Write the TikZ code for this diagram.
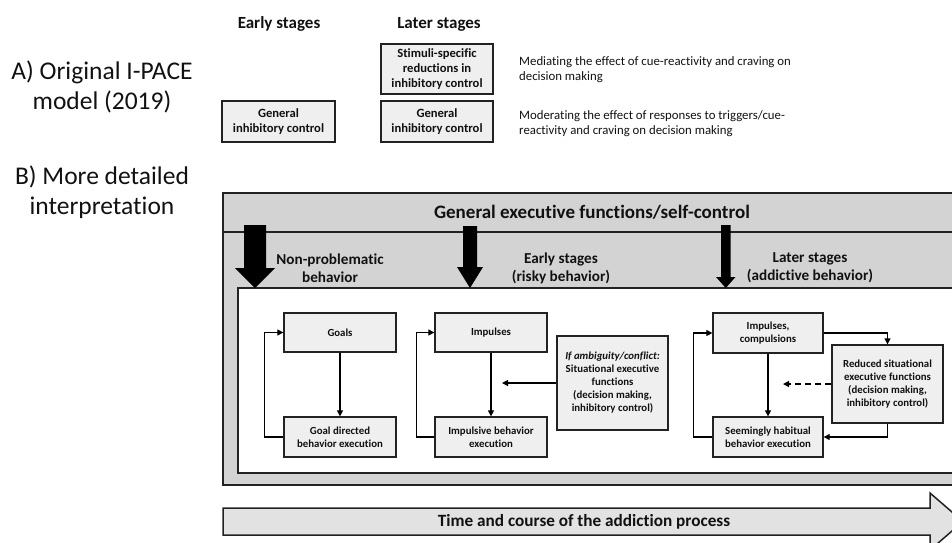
\documentclass[tikz,border=0pt]{standalone}
\usepackage{fontspec}
\setmainfont{Carlito}[Ligatures=NoCommon]
\usetikzlibrary{arrows.meta,calc}
\definecolor{outergray}{HTML}{D3D3D3}
\definecolor{boxfill}{HTML}{EFEFEF}
\definecolor{arrowfill}{HTML}{E2E2E2}
\definecolor{edgec}{HTML}{222222}
\definecolor{txt}{HTML}{111111}
\begin{document}
\begin{tikzpicture}[x=1pt,y=-1pt,
  ibox/.style={draw=edgec,fill=boxfill,line width=1.3pt,inner sep=0pt,align=center,text=txt,font=\bfseries\fontsize{12.6}{15}\selectfont},
  sbox/.style={draw=edgec,fill=boxfill,line width=1.3pt,inner sep=0pt,align=center,text=txt,font=\bfseries\fontsize{10.8}{13}\selectfont},
  conn/.style={line width=1.2pt,draw=black,-{Triangle[length=6pt,width=6pt]}},
  title/.style={align=center,text=txt,font=\fontsize{25.5}{30}\selectfont},
  colhead/.style={align=center,text=txt,font=\bfseries\fontsize{17}{20}\selectfont},
  note/.style={align=left,anchor=west,text=txt,inner sep=0pt,font=\fontsize{12.8}{15}\selectfont},
  stagelab/.style={align=center,text=txt,font=\bfseries\fontsize{15.2}{18}\selectfont},
  bigarrow/.style={fill=black}
]
\useasboundingbox (0,0) rectangle (952,542);

% ---------- Part A ----------
\node[title] (tA) at (102,87) {A) Original I-PACE\\model (2019)};
\node[colhead] (hE) at (279,24) {Early stages};
\node[colhead] (hL) at (439,24) {Later stages};
\node[ibox,minimum width=112pt,minimum height=50pt] (stim) at (437,69) {Stimuli-specific\\reductions in\\inhibitory control};
\node[ibox,minimum width=112pt,minimum height=41pt] (gicL) at (437,121.5) {General\\inhibitory control};
\node[ibox,minimum width=113pt,minimum height=41pt] (gicE) at (278.5,121.5) {General\\inhibitory control};
\node[note] (n1) at (519,69.5) {Mediating the effect of cue-reactivity and craving on\\decision making};
\node[note] (n2) at (519,123.5) {Moderating the effect of responses to triggers/cue-\\reactivity and craving on decision making};

% ---------- Part B ----------
\node[title] (tB) at (102,192) {B) More detailed\\interpretation};

\draw[draw=edgec,fill=outergray,line width=1.5pt] (223,193) rectangle (970,485);
\draw[draw=edgec,line width=1.5pt] (223,232) -- (970,232);
\draw[draw=edgec,fill=white,line width=1.5pt] (238,288) rectangle (970,473);
\node[text=txt,font=\bfseries\fontsize{19}{22}\selectfont] (gef) at (592,212) {General executive functions/self-control};

% big black arrows
\fill[bigarrow] (244,225) -- (266,225) -- (266,268) -- (275,268) -- (255,288) -- (235,268) -- (244,268) -- cycle;
\fill[bigarrow] (463,226) -- (477,226) -- (477,267) -- (483,267) -- (470,288) -- (457,267) -- (463,267) -- cycle;
\fill[bigarrow] (721,225) -- (730.5,225) -- (730.5,277) -- (735.5,277) -- (725.75,288) -- (716,277) -- (721,277) -- cycle;

\node[stagelab] (s1) at (330,268) {Non-problematic\\behavior};
\node[stagelab] (s2) at (561,268) {Early stages\\(risky behavior)};
\node[stagelab] (s3) at (810,268) {Later stages\\(addictive behavior)};

% non-problematic
\node[sbox,minimum width=112pt,minimum height=39pt] (goals) at (340,332.5) {Goals};
\node[sbox,minimum width=112pt,minimum height=40pt] (gde) at (340,437) {Goal directed\\behavior execution};
\draw[conn] (goals.south) -- (gde.north);
\draw[conn] (gde.west) -- ++(-19,0) |- (goals.west);

% early stages
\node[sbox,minimum width=112pt,minimum height=39pt] (imp) at (491,332.5) {Impulses};
\node[sbox,minimum width=112pt,minimum height=40pt] (ibe) at (491,437) {Impulsive behavior\\execution};
\node[sbox,minimum width=111pt,minimum height=94pt] (sit) at (612.5,383) {\textit{If ambiguity/conflict:}\\Situational executive\\functions\\(decision making,\\inhibitory control)};
\draw[conn] (imp.south) -- (ibe.north);
\draw[conn] (ibe.west) -- ++(-18,0) |- (imp.west);
\coordinate (sitend) at (502,383);
\draw[conn] (sit.west) -- (sitend);

% later stages
\node[sbox,minimum width=110pt,minimum height=40pt] (ic) at (768,333) {Impulses,\\compulsions};
\node[sbox,minimum width=110pt,minimum height=40pt] (shb) at (768,437) {Seemingly habitual\\behavior execution};
\node[sbox,minimum width=111pt,minimum height=78pt] (rs) at (887.5,384) {Reduced situational\\executive functions\\(decision making,\\inhibitory control)};
\draw[conn] (ic.south) -- (shb.north);
\draw[conn] (shb.west) -- ++(-19,0) |- (ic.west);
\draw[conn] (ic.east) -| (rs.north);
\draw[conn] (rs.south) |- (shb.east);
\coordinate (rsend) at (783,384);
\draw[conn,dashed,dash pattern=on 6pt off 4pt] (rs.west) -- (rsend);

% time arrow
\draw[draw=edgec,fill=arrowfill,line width=1.5pt] (223,508) -- (930,508) -- (930,493) -- (963,521.5) -- (930,550) -- (930,535) -- (223,535) -- cycle;
\node[text=txt,font=\bfseries\fontsize{17.2}{20}\selectfont] (time) at (584,521.5) {Time and course of the addiction process};
\end{tikzpicture}
\end{document}
